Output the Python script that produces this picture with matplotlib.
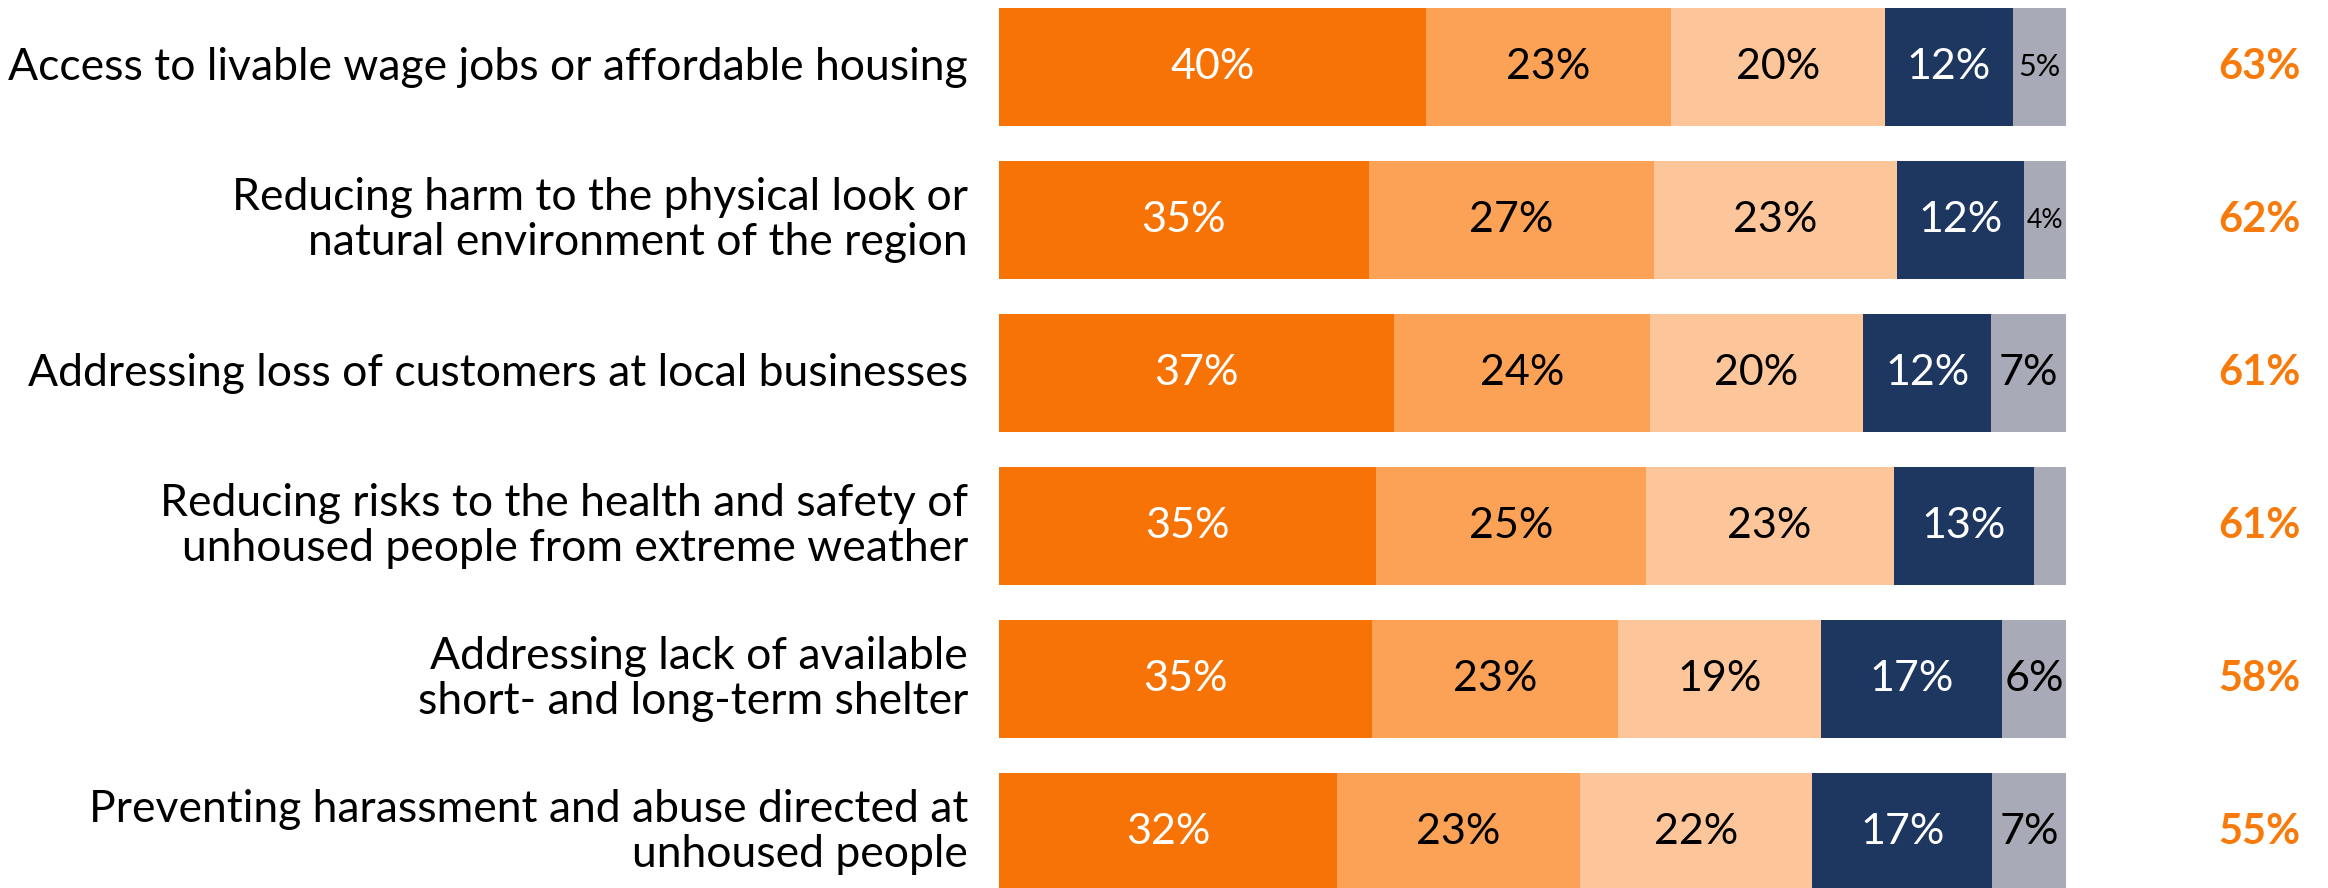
import numpy as np
import matplotlib.pyplot as plt
from matplotlib.transforms import blended_transform_factory

plt.rcParams['font.family'] = ['Lato', 'DejaVu Sans']

categories = [
    'Access to livable wage jobs or affordable housing',
    'Reducing harm to the physical look or\nnatural environment of the region',
    'Addressing loss of customers at local businesses',
    'Reducing risks to the health and safety of\nunhoused people from extreme weather',
    'Addressing lack of available\nshort- and long-term shelter',
    'Preventing harassment and abuse directed at\nunhoused people',
]

# response shares per row, from most to least important
very_high = [40, 35, 37, 35, 35, 32]
high = [23, 27, 24, 25, 23, 23]
moderate = [20, 23, 20, 23, 19, 22]
low = [12, 12, 12, 13, 17, 17]
none_ = [5, 4, 7, 3, 6, 7]
top_two = [63, 62, 61, 61, 58, 55]

series = [very_high, high, moderate, low, none_]
colors = ['#F87306', '#FBA257', '#FDC69A', '#1E3761', '#A9AAB7']
text_colors = ['white', 'black', 'black', 'white', 'black']

fig = plt.figure(figsize=(23.28, 8.88), dpi=100)
ax = fig.add_axes([999 / 2328, 0, 1067 / 2328, 1])

data = np.array(series, dtype=float)
totals = data.sum(axis=0)
shares = data / totals * 100
y = np.arange(len(categories))

left = np.zeros(len(categories))
for k, (vals, raw) in enumerate(zip(shares, data)):
    ax.barh(y, vals, left=left, height=0.77, color=colors[k], linewidth=0)
    for i in range(len(categories)):
        v = raw[i]
        cx = left[i] + vals[i] / 2
        if v < 4:
            continue
        # thin segments get a smaller label so it stays inside
        size = {4: 19, 5: 22}.get(int(v), 31)
        ax.text(cx, y[i], f'{v:.0f}%', ha='center', va='center',
                color=text_colors[k], fontsize=size)
    left += vals

tr = blended_transform_factory(ax.transAxes, ax.transData)
for i, cat in enumerate(categories):
    ax.text(-0.029, y[i], cat, transform=tr, ha='right', va='center',
            fontsize=32, linespacing=1.1, color='black')
    ax.text(1.181, y[i], f'{top_two[i]}%', transform=tr, ha='center',
            va='center', fontsize=30, fontweight='bold', color='#F77A0B')

ax.set_xlim(0, 100)
ax.set_ylim(5.366, -0.438)
ax.axis('off')

fig.savefig('out.png', dpi=100)
